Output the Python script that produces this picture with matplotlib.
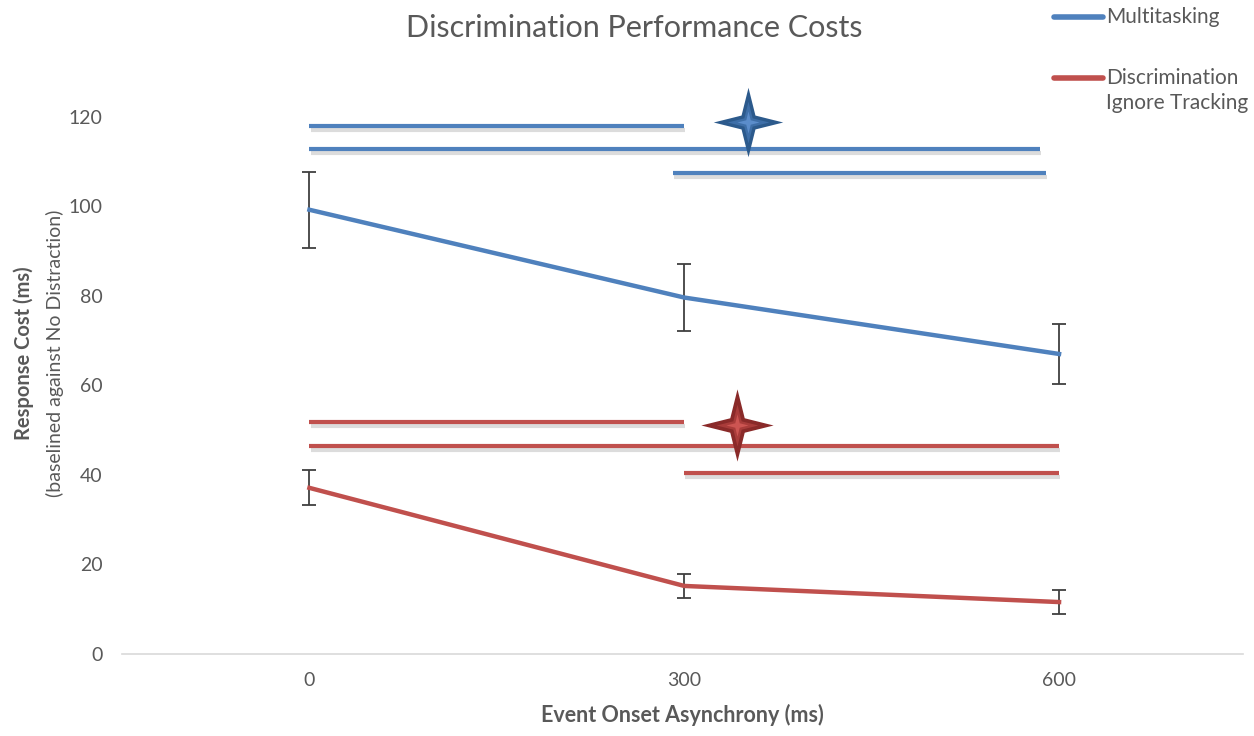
import matplotlib
matplotlib.use("Agg")
import matplotlib.pyplot as plt
import matplotlib.patheffects as pe
from matplotlib.lines import Line2D
from matplotlib.path import Path

plt.rcParams["font.family"] = ["Lato", "DejaVu Sans"]

# data
conditions = ["0", "300", "600"]
multitasking = [99.2, 79.6, 67.0]
multitasking_err = [8.5, 7.5, 6.8]
discrimination = [37.1, 15.2, 11.6]
discrimination_err = [3.9, 2.7, 2.6]

# significance brackets: (x start, x end, y) in category units
multi_sig = [(0.0, 1.0, 118.0), (0.0, 1.95, 112.8), (0.97, 1.965, 107.5)]
discr_sig = [(0.0, 1.0, 51.8), (0.0, 2.0, 46.5), (1.0, 2.0, 40.4)]
multi_star = (1.17, 118.9)
discr_star = (1.14, 51.2)

BLUE = "#4F81BD"
RED = "#C0504D"
GREY_TXT = "#595959"

k = 0.2
star_verts = [(0, 1), (k, k), (1, 0), (k, -k), (0, -1),
              (-k, -k), (-1, 0), (-k, k), (0, 1)]
star = Path(star_verts, [Path.MOVETO] + [Path.LINETO] * 7 + [Path.CLOSEPOLY])

fig = plt.figure(figsize=(12.54, 7.36), dpi=100)
ax = fig.add_axes([0.0973, 0.1114, 0.8937, 0.791])
x = list(range(len(conditions)))

shadow = [pe.SimpleLineShadow(offset=(0.8, -3), shadow_color="#8c8c8c", alpha=0.3),
          pe.Normal()]
for xs, xe, y in multi_sig:
    ax.plot([xs, xe], [y, y], color=BLUE, lw=3, solid_capstyle="butt",
            path_effects=shadow, zorder=3)
for xs, xe, y in discr_sig:
    ax.plot([xs, xe], [y, y], color=RED, lw=3, solid_capstyle="butt",
            path_effects=shadow, zorder=3)

ax.plot(*multi_star, marker=star, ms=50, color="#2C5A8C", mew=0, zorder=5)
ax.plot(*multi_star, marker=star, ms=30, color="#3E6FA8", mew=0, zorder=6)
ax.plot(*multi_star, marker=star, ms=16, color="#5B8DCB", mew=0, zorder=7)
ax.plot(*discr_star, marker=star, ms=52, color="#8A2A29", mew=0, zorder=5)
ax.plot(*discr_star, marker=star, ms=30, color="#A93C3A", mew=0, zorder=6)
ax.plot(*discr_star, marker=star, ms=16, color="#CD5552", mew=0, zorder=7)

ax.errorbar(x, multitasking, yerr=multitasking_err, fmt="none", ecolor="#404040",
            elinewidth=1.3, capsize=5, capthick=1.3, zorder=2)
ax.errorbar(x, discrimination, yerr=discrimination_err, fmt="none", ecolor="#404040",
            elinewidth=1.3, capsize=5, capthick=1.3, zorder=2)
ax.plot(x, multitasking, color=BLUE, lw=3.2, zorder=4)
ax.plot(x, discrimination, color=RED, lw=3.2, zorder=4)

ax.set_xlim(-0.5, 2.49)
ax.set_ylim(0, 130)
ax.set_yticks(range(0, 121, 20))
ax.set_xticks(x)
ax.set_xticklabels(conditions)
for s in ["top", "right", "left"]:
    ax.spines[s].set_visible(False)
ax.spines["bottom"].set_color("#D9D9D9")
ax.spines["bottom"].set_linewidth(1.2)
ax.tick_params(axis="both", length=0, labelsize=14, labelcolor=GREY_TXT, pad=13)
ax.tick_params(axis="y", pad=14)

ax.set_xlabel("Event Onset Asynchrony (ms)", fontsize=15.5, fontweight="bold",
              color=GREY_TXT, labelpad=11)
fig.text(0.019, 0.52, "Response Cost (ms)", rotation=90, ha="center", va="center",
         fontsize=14.5, fontweight="bold", color=GREY_TXT)
fig.text(0.044, 0.52, "(baselined against No Distraction)", rotation=90,
         ha="center", va="center", fontsize=14, color=GREY_TXT)
fig.text(0.506, 0.962, "Discrimination Performance Costs", ha="center", va="center",
         fontsize=22, color=GREY_TXT)

# legend drawn by hand to match the layout
fig.add_artist(Line2D([0.8405, 0.8796], [0.977, 0.977], color=BLUE, lw=4,
                      solid_capstyle="round"))
fig.text(0.882, 0.977, "Multitasking", va="center", fontsize=15, color=GREY_TXT)
fig.add_artist(Line2D([0.8405, 0.8796], [0.894, 0.894], color=RED, lw=4,
                      solid_capstyle="round"))
fig.text(0.882, 0.894, "Discrimination", va="center", fontsize=15, color=GREY_TXT)
fig.text(0.882, 0.860, "Ignore Tracking", va="center", fontsize=15, color=GREY_TXT)

fig.savefig("out.png", dpi=100)
